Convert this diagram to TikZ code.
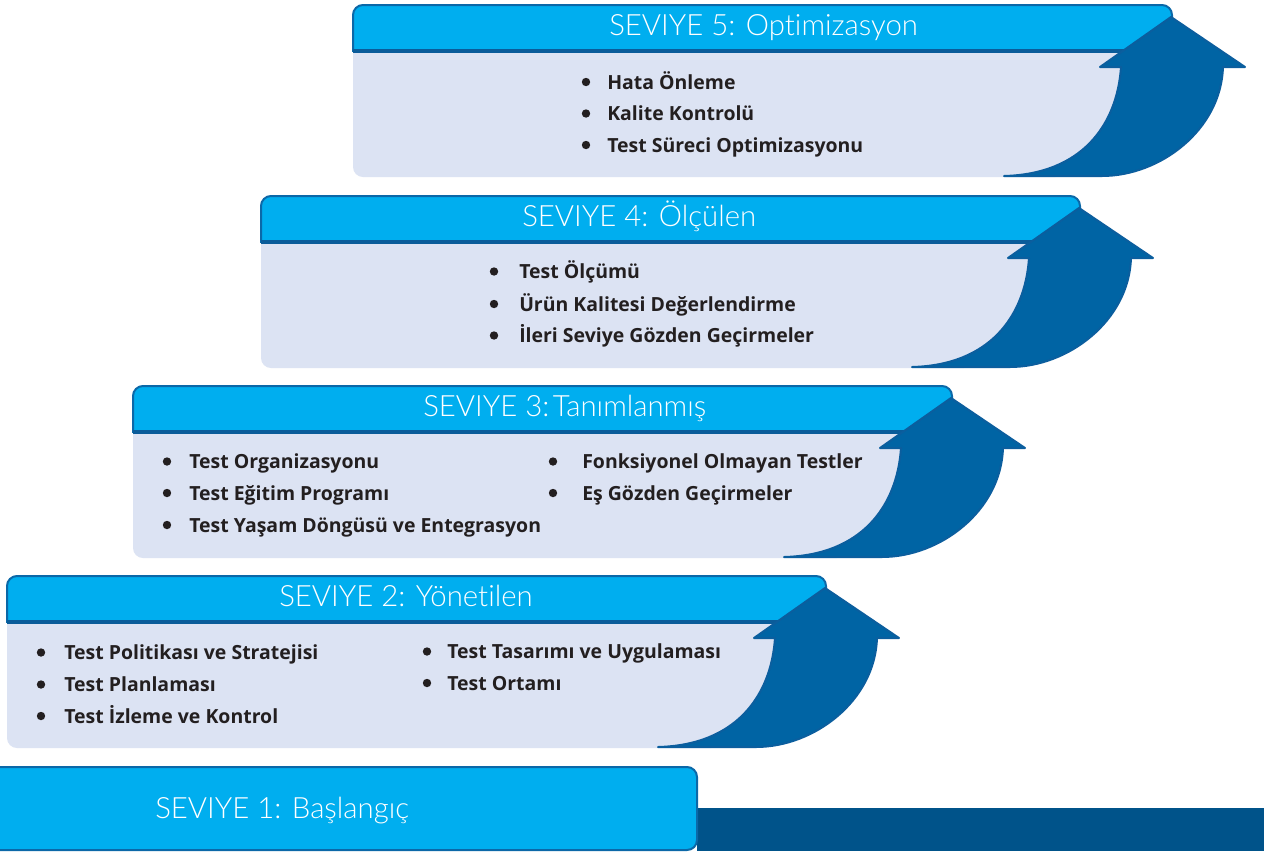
\documentclass[tikz,border=0pt]{standalone}
\usepackage{fontspec}
\setmainfont{Open Sans}
\newfontfamily\headfont{Lato Light}[Ligatures=NoCommon]
\definecolor{hdr}{HTML}{00AEEF}
\definecolor{hdrline}{HTML}{0B68A8}
\definecolor{hdrbot}{HTML}{0A5C9A}
\definecolor{bodyc}{HTML}{DCE3F3}
\definecolor{arrowc}{HTML}{0064A4}
\definecolor{arrowedge}{HTML}{0B5E9E}
\definecolor{barc}{HTML}{00538A}
\definecolor{txt}{HTML}{231F20}
\newcommand\drawlevel[2]{%
\begin{scope}[shift={(#1,#2)}]
 \begin{scope}\clip (-830,-10) rectangle (20,46);
  \filldraw[fill=hdr,draw=hdrline,line width=1.5pt,rounded corners=7.5pt] (-819,0) rectangle (0,90);
 \end{scope}
 \begin{scope}\clip (-830,46) rectangle (20,200);
  \fill[bodyc,rounded corners=7.5pt] (-819,30) -- (-819,172) -- (-110,172)
     .. controls (-40,171) and (-3,122) .. (0,62) -- (0,30) -- cycle;
 \end{scope}
 \draw[hdrbot,line width=2.4pt] (-819,46) -- (-20,46);
 \filldraw[fill=arrowc,draw=arrowedge,line width=1.5pt,line join=round,line cap=round]
   (-1,12) -- (73,62) -- (51,62) .. controls (49,125) and (-12,171) .. (-70,171)
   -- (-168,171) .. controls (-90,169) and (-55,120) .. (-51,62) -- (-72,62) -- cycle;
\end{scope}}
\tikzset{
  headtxt/.style={anchor=base west,inner sep=0pt,text=white,font=\headfont\fontsize{22}{25}\selectfont},
  itemtxt/.style={anchor=base west,inner sep=0pt,text=txt,font=\bfseries\fontsize{14.6}{16}\selectfont},
  bul/.style={circle,fill=txt,inner sep=0pt,minimum size=6.3pt}
}
\begin{document}
\begin{tikzpicture}[x=0.75pt,y=-0.75pt]
\useasboundingbox (0,0) rectangle (1264,851);
\clip (0,0) rectangle (1264,851);
\fill[white] (0,0) rectangle (1264,851);
% level 1
\fill[barc] (697,808) rectangle (1264,851);
\filldraw[fill=hdr,draw=hdrline,line width=1.5pt,rounded corners=7.5pt] (-200,767) rectangle (697,850);
\node[headtxt] (h1) at (155,818) {SEVIYE 1: Başlangıç};
% levels
\drawlevel{1172}{5}
\drawlevel{1080}{196}
\drawlevel{952}{386}
\drawlevel{826}{576}
% headers
\node[headtxt] (h5) at (609,35.5) {SEVIYE 5: Optimizasyon};
\node[headtxt] (h4) at (522,226.5) {SEVIYE 4: Ölçülen};
\node[headtxt] (h3) at (423,416.7) {SEVIYE 3:\hspace{0.12em}Tanımlanmış};
\node[headtxt] (h2) at (279,606.5) {SEVIYE 2: Yönetilen};
% level 5 items
\node[bul] (b51) at (586,82) {}; \node[itemtxt] (t51) at (607,89) {Hata Önleme};
\node[bul] (b52) at (586,113.5) {}; \node[itemtxt] (t52) at (607,120.5) {Kalite Kontrolü};
\node[bul] (b53) at (586,145) {}; \node[itemtxt] (t53) at (607,152) {Test Süreci Optimizasyonu};
% level 4 items
\node[bul] (b41) at (494,271.5) {}; \node[itemtxt] (t41) at (519,278.5) {Test Ölçümü};
\node[bul] (b42) at (494,304) {}; \node[itemtxt] (t42) at (519,311) {Ürün Kalitesi Değerlendirme};
\node[bul] (b43) at (494,335.5) {}; \node[itemtxt] (t43) at (519,342.5) {İleri Seviye Gözden Geçirmeler};
% level 3 items
\node[bul] (b31) at (167,461.5) {}; \node[itemtxt] (t31) at (189,468.5) {Test Organizasyonu};
\node[bul] (b32) at (167,493) {}; \node[itemtxt] (t32) at (189,500) {Test Eğitim Programı};
\node[bul] (b33) at (167,525) {}; \node[itemtxt] (t33) at (189,532) {Test Yaşam Döngüsü ve Entegrasyon};
\node[bul] (b34) at (553,461.5) {}; \node[itemtxt] (t34) at (582,468.5) {Fonksiyonel Olmayan Testler};
\node[bul] (b35) at (553,493) {}; \node[itemtxt] (t35) at (582,500) {Eş Gözden Geçirmeler};
% level 2 items
\node[bul] (b21) at (41,652.5) {}; \node[itemtxt] (t21) at (64,659.5) {Test Politikası ve Stratejisi};
\node[bul] (b22) at (41,684.5) {}; \node[itemtxt] (t22) at (64,691.5) {Test Planlaması};
\node[bul] (b23) at (41,716) {}; \node[itemtxt] (t23) at (64,723) {Test İzleme ve Kontrol};
\node[bul] (b24) at (427,651.5) {}; \node[itemtxt] (t24) at (447,658.5) {Test Tasarımı ve Uygulaması};
\node[bul] (b25) at (427,683) {}; \node[itemtxt] (t25) at (447,690) {Test Ortamı};
\end{tikzpicture}
\end{document}
